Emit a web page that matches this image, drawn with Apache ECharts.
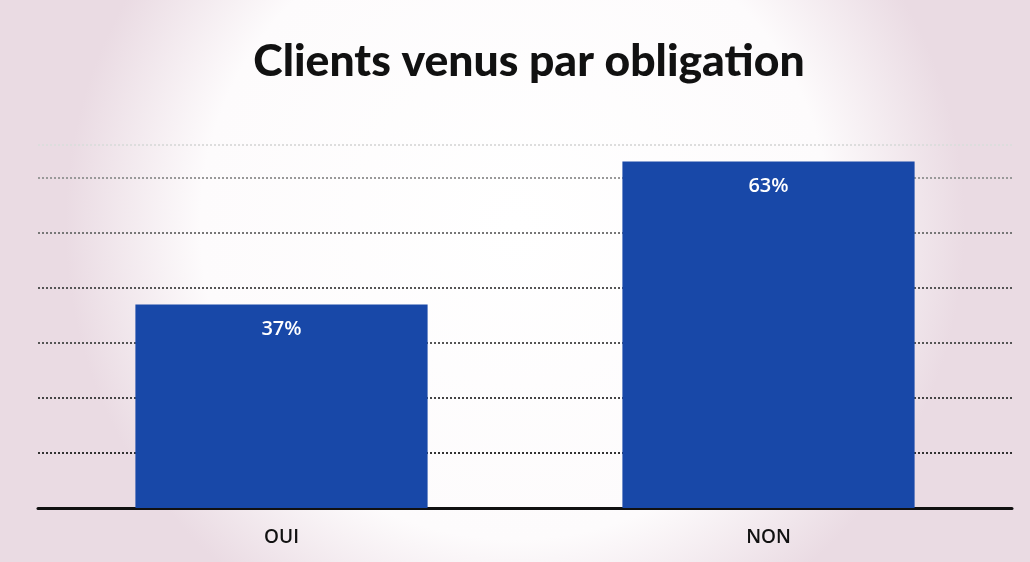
<!DOCTYPE html>
<html><head><meta charset="utf-8">
<script src="https://cdn.jsdelivr.net/npm/echarts@6/dist/echarts.min.js"></script>
<style>html,body{margin:0;padding:0;background:#fff}#c{width:1030px;height:562px}</style>
</head><body><div id="c"></div>
<script>
const titleText = "Clients venus par obligation";
const categories = ["OUI", "NON"];
const values = [37, 63];

const chart = echarts.init(document.getElementById('c'));
chart.setOption({
  animation: false,
  backgroundColor: {
    type: 'radial', x: 0.5, y: 0.4, r: 0.8,
    colorStops: [
      {offset: 0, color: '#ffffff'},
      {offset: 0.7, color: '#fdfbfc'},
      {offset: 1, color: '#eadbe3'}
    ]
  },
  title: {
    text: titleText, left: 524, top: 34, textAlign: 'center',
    textStyle: {fontFamily: 'Lato', fontWeight: 900, fontSize: 44.5, color: '#111'}
  },
  grid: {left: 38, right: 18, top: 145, bottom: 54},
  xAxis: {
    type: 'category', data: categories,
    axisLine: {lineStyle: {color: '#111', width: 3}},
    axisTick: {show: false},
    axisLabel: {color: '#111', fontFamily: 'Open Sans', fontWeight: 600, fontSize: 19, margin: 20}
  },
  yAxis: {
    type: 'value', min: 0, max: 66, interval: 10,
    axisLabel: {show: false}, axisLine: {show: false}, axisTick: {show: false},
    splitLine: {lineStyle: {type: 'dotted', width: 2,
      color: ['#222', '#333', '#444', '#555', '#555', '#777', '#999', '#dddddd']}}
  },
  series: [{
    type: 'bar', data: values, barWidth: '60%',
    itemStyle: {color: '#1848a8'},
    label: {show: true, position: 'insideTop', distance: 15, formatter: '{c}%',
      color: '#fff', fontFamily: 'Open Sans', fontWeight: 600, fontSize: 20}
  }]
});
</script></body></html>
